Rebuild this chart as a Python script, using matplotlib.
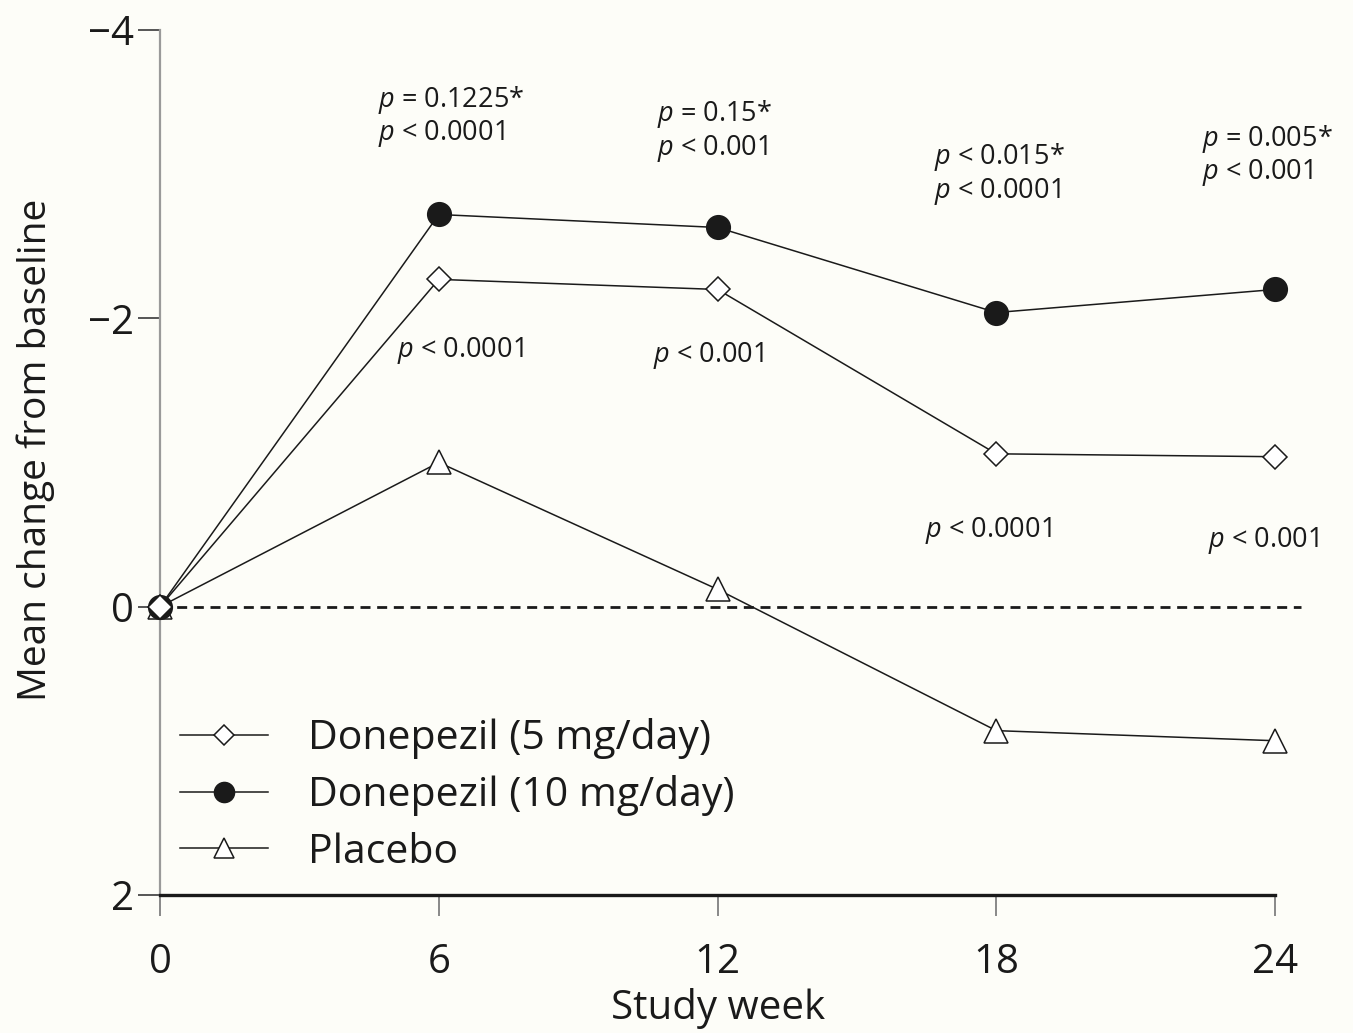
"""Donepezil trial: mean change from baseline by study week."""

import matplotlib
matplotlib.use("Agg")
import matplotlib.pyplot as plt

plt.rcParams["font.family"] = ["Open Sans", "DejaVu Sans"]
plt.rcParams["mathtext.fontset"] = "custom"
plt.rcParams["mathtext.rm"] = "Open Sans"
plt.rcParams["mathtext.it"] = "Open Sans:italic"
plt.rcParams["axes.unicode_minus"] = True

# ---------------------------------------------------------------------------
# Data
# ---------------------------------------------------------------------------
weeks = [0, 6, 12, 18, 24]
dose_5mg = [0.0, -2.27, -2.20, -1.06, -1.04]
dose_10mg = [0.0, -2.72, -2.63, -2.04, -2.20]
placebo = [0.0, -1.00, -0.12, 0.86, 0.93]

series_labels = ["Donepezil (5 mg/day)", "Donepezil (10 mg/day)", "Placebo"]

# p-values: 10 mg vs 5 mg (*) and 10 mg vs placebo, above the curves
upper_pvals = [
    "$p$ = 0.1225*\n$p$ < 0.0001",
    "$p$ = 0.15*\n$p$ < 0.001",
    "$p$ < 0.015*\n$p$ < 0.0001",
    "$p$ = 0.005*\n$p$ < 0.001",
]
upper_xy = [(4.69, -3.40), (10.70, -3.30), (16.66, -3.00), (22.43, -3.13)]

# p-values: 5 mg vs placebo
lower_pvals = ["$p$ < 0.0001", "$p$ < 0.001", "$p$ < 0.0001", "$p$ < 0.001"]
lower_xy = [(5.10, -1.78), (10.61, -1.74), (16.47, -0.53), (22.56, -0.46)]

y_ticks = [-4, -2, 0, 2]
x_ticks = [0, 6, 12, 18, 24]

BG = "#fdfdf8"
INK = "#1a1a1a"

fig = plt.figure(figsize=(13.53, 10.33), dpi=100, facecolor=BG)
ax = fig.add_axes([0.1183, 0.1336, 0.8241, 0.8374], facecolor=BG)

# zero reference line runs a little past the last week
ax.plot([0, 24.55], [0, 0], color=INK, lw=2.0, ls=(0, (3.6, 2.4)),
        clip_on=False, zorder=1)

line_kw = dict(color=INK, lw=1.1, mew=1.1, clip_on=False)
h_pl, = ax.plot(weeks, placebo, marker="^", ms=17, mfc="white", mec=INK,
                zorder=3, label=series_labels[2], **line_kw)
h_10, = ax.plot(weeks, dose_10mg, marker="o", ms=17, mfc=INK, mec=INK,
                zorder=4, label=series_labels[1], **line_kw)
h_5, = ax.plot(weeks, dose_5mg, marker="D", ms=12.5, mfc="white", mec=INK,
               zorder=5, label=series_labels[0], **line_kw)

for (x, y), txt in zip(upper_xy, upper_pvals):
    ax.text(x, y, txt, fontsize=19.5, color=INK, ha="left", va="center",
            linespacing=1.12)
for (x, y), txt in zip(lower_xy, lower_pvals):
    ax.text(x, y, txt, fontsize=19.5, color=INK, ha="left", va="center")

ax.set_xlim(0, 24)
ax.set_ylim(2, -4)
ax.set_xticks(x_ticks)
ax.set_yticks(y_ticks)
ax.set_yticklabels(["\u22124", "\u22122", "0", "2"])

for side in ("top", "right"):
    ax.spines[side].set_visible(False)
ax.spines["left"].set_color("#9a9a9a")
ax.spines["left"].set_linewidth(1.6)
ax.spines["bottom"].set_color(INK)
ax.spines["bottom"].set_linewidth(2.4)

ax.tick_params(axis="y", direction="out", length=16, width=1.4,
               color="#555555", labelsize=29, labelcolor=INK, pad=3)
ax.tick_params(axis="x", direction="out", length=15, width=1.4,
               color="#888888", labelsize=29, labelcolor=INK, pad=19)

ax.set_xlabel("Study week", fontsize=29, color=INK, labelpad=4)
ax.set_ylabel("Mean change from baseline", fontsize=28, color=INK)
ax.yaxis.set_label_coords(-0.094, 0.514)

ax.legend(handles=[h_5, h_10, h_pl], loc="lower left",
          bbox_to_anchor=(0.018, 0.026), frameon=False, fontsize=29.5,
          handlelength=2.15, handletextpad=0.98, labelspacing=0.39,
          markerscale=0.85, borderpad=0, borderaxespad=0, labelcolor=INK)

fig.savefig("out.png", dpi=100, facecolor=BG)
